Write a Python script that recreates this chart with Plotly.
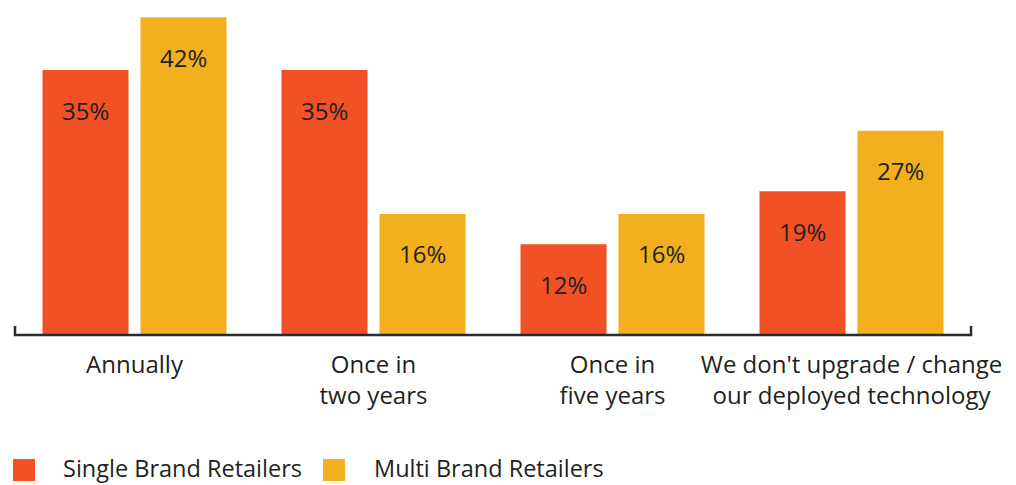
import plotly.graph_objects as go

# Survey: how often retailers upgrade their deployed technology
categories = [
    "Annually",
    "Once in<br>two years",
    "Once in<br>five years",
    "We don't upgrade / change<br>our deployed technology",
]
single_brand = [35, 35, 12, 19]
multi_brand = [42, 16, 16, 27]
series_names = ["Single Brand Retailers", "Multi Brand Retailers"]

RED = "#F15124"
YELLOW = "#F2AF1E"
INK = "#231F20"
FONT = "Open Sans"

W, H = 1016, 485
M_L, M_R, M_T, M_B = 15, 45, 2, 150
PLOT_W = W - M_L - M_R
PLOT_H = H - M_T - M_B


def paper_x(px):
    return (px - M_L) / PLOT_W


def paper_y(py):
    return (H - M_B - py) / PLOT_H


fig = go.Figure()
for name, vals, col in [(series_names[0], single_brand, RED), (series_names[1], multi_brand, YELLOW)]:
    fig.add_trace(go.Bar(
        x=categories, y=vals, name=name, marker=dict(color=col, line=dict(width=0)),
        hoverinfo="skip",
    ))

# value labels inside each bar, just below its top
for vals, shift in [(single_brand, -49), (multi_brand, 49)]:
    for cat, v in zip(categories, vals):
        fig.add_annotation(
            x=cat, y=v, text=f"{v}%", showarrow=False, xshift=shift, yshift=-40,
            yanchor="middle", font=dict(family=FONT, size=24, color=INK),
        )

# baseline with small upturned end ticks
fig.add_shape(
    type="path", xref="paper", yref="paper",
    path="M 0,0.027 L 0,0 L 1,0 L 1,0.027",
    line=dict(color="#2b2b2b", width=2.5), layer="above",
)

# legend: square swatches followed by series names
legend_y = paper_y(468)
for name, col, sq_left, text_left in [
    (series_names[0], RED, 13, 61),
    (series_names[1], YELLOW, 323, 372),
]:
    fig.add_shape(
        type="rect", xref="paper", yref="paper",
        x0=paper_x(sq_left), x1=paper_x(sq_left + 22),
        y0=paper_y(481), y1=paper_y(459),
        fillcolor=col, line=dict(width=0),
    )
    fig.add_annotation(
        xref="paper", yref="paper", x=paper_x(text_left), y=legend_y,
        xanchor="left", yanchor="middle", showarrow=False, text=name,
        font=dict(family=FONT, size=23.5, color=INK),
    )

fig.update_layout(
    width=W, height=H,
    margin=dict(l=M_L, r=M_R, t=M_T, b=M_B, autoexpand=False),
    paper_bgcolor="white", plot_bgcolor="white",
    barmode="group", bargap=0.18, bargroupgap=0.122,
    font=dict(family=FONT, size=24, color=INK),
    xaxis=dict(
        range=[-0.5, 3.5], showgrid=False, zeroline=False, showline=False,
        ticks="", tickfont=dict(family=FONT, size=24, color=INK),
        ticklabelstandoff=13,
    ),
    yaxis=dict(range=[0, 44], visible=False),
    showlegend=False,
)

fig.write_html("out.html")
